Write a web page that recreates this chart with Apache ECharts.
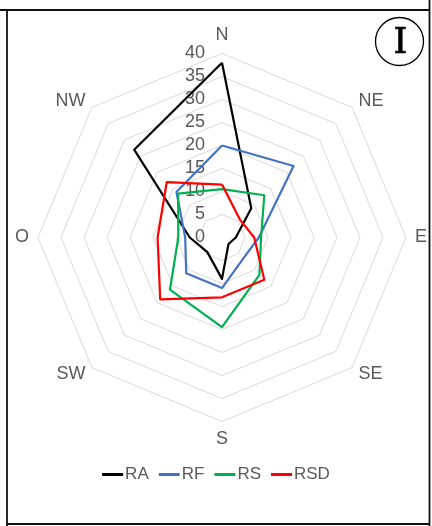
<!DOCTYPE html>
<html>
<head>
<meta charset="utf-8">
<script src="https://cdn.jsdelivr.net/npm/echarts@6/dist/echarts.min.js"></script>
<style>
  html, body { margin: 0; padding: 0; background: #fff; }
  #main { width: 432px; height: 526px; }
</style>
</head>
<body>
<div id="main"></div>
<script>
// directions, clockwise from north
var directions = ['N', 'NE', 'E', 'SE', 'S', 'SW', 'O', 'NW'];
var ra  = [38, 9, 3, 2, 9, 4.5, 7, 27];
var rf  = [20, 22, 8, 6.5, 11, 11, 8, 14];
var rs  = [10.5, 13, 8.5, 11.5, 19.5, 16, 9.5, 13.5];
var rsd = [11.5, 5.5, 7, 13, 13, 19, 14, 17];
var seriesNames = ['RA', 'RF', 'RS', 'RSD'];
var colors = ['#000000', '#4472C4', '#00B050', '#FF0000'];

// echarts radar goes counterclockwise, so reverse everything after N
var order = [0, 7, 6, 5, 4, 3, 2, 1];
function reorder(arr) {
    return order.map(function (i) { return arr[i]; });
}

var myChart = echarts.init(document.getElementById('main'));

var indicators = reorder(directions).map(function (d, i) {
    var ind = {name: d, min: 0, max: 40};
    if (i === 0) {
        // value labels only along the north axis
        ind.axisLabel = {show: true, color: '#595959', fontSize: 18, margin: 17,
            fontFamily: 'Liberation Sans'};
    }
    return ind;
});

var lineW = 2.2;
var option = {
    animation: false,
    color: colors,
    legend: {
        data: seriesNames,
        bottom: 38,
        left: 'center',
        icon: 'rect',
        itemWidth: 21,
        itemHeight: 3,
        itemGap: 10,
        textStyle: {color: '#595959', fontSize: 17, fontFamily: 'Liberation Sans', padding: [0, 0, 0, -3]}
    },
    radar: {
        center: [222, 237.5],
        radius: 184,
        startAngle: 90,
        shape: 'polygon',
        splitNumber: 8,
        indicator: indicators,
        nameGap: 9,
        axisName: {color: '#595959', fontSize: 18, fontFamily: 'Liberation Sans'},
        axisLine: {show: false},
        axisTick: {show: false},
        axisLabel: {show: false},
        splitArea: {show: false},
        splitLine: {lineStyle: {color: '#D9D9D9', width: 1}}
    },
    series: [{
        type: 'radar',
        symbol: 'none',
        data: [
            {name: 'RA', value: reorder(ra), lineStyle: {color: colors[0], width: lineW}},
            {name: 'RF', value: reorder(rf), lineStyle: {color: colors[1], width: lineW}},
            {name: 'RS', value: reorder(rs), lineStyle: {color: colors[2], width: lineW}},
            {name: 'RSD', value: reorder(rsd), lineStyle: {color: colors[3], width: lineW}}
        ]
    }],
    graphic: [
        // frame
        {type: 'line', shape: {x1: 0, y1: 10, x2: 430, y2: 10}, style: {stroke: '#111', lineWidth: 1.8}},
        {type: 'line', shape: {x1: 7, y1: 10, x2: 7, y2: 526}, style: {stroke: '#111', lineWidth: 1.8}},
        {type: 'line', shape: {x1: 429.5, y1: 0, x2: 429.5, y2: 526}, style: {stroke: '#111', lineWidth: 1.8}},
        {type: 'line', shape: {x1: 7, y1: 524, x2: 430, y2: 524}, style: {stroke: '#111', lineWidth: 1.8}},
        // circled panel mark
        {type: 'circle', shape: {cx: 399.5, cy: 41.5, r: 24}, style: {fill: 'none', stroke: '#000', lineWidth: 1.3}},
        {type: 'text', x: 400.5, y: 44, style: {text: 'I', fontSize: 35, fontFamily: 'DejaVu Serif',
            fill: '#000', stroke: '#000', lineWidth: 0.7, align: 'center', verticalAlign: 'middle'}}
    ]
};
myChart.setOption(option);
</script>
</body>
</html>
